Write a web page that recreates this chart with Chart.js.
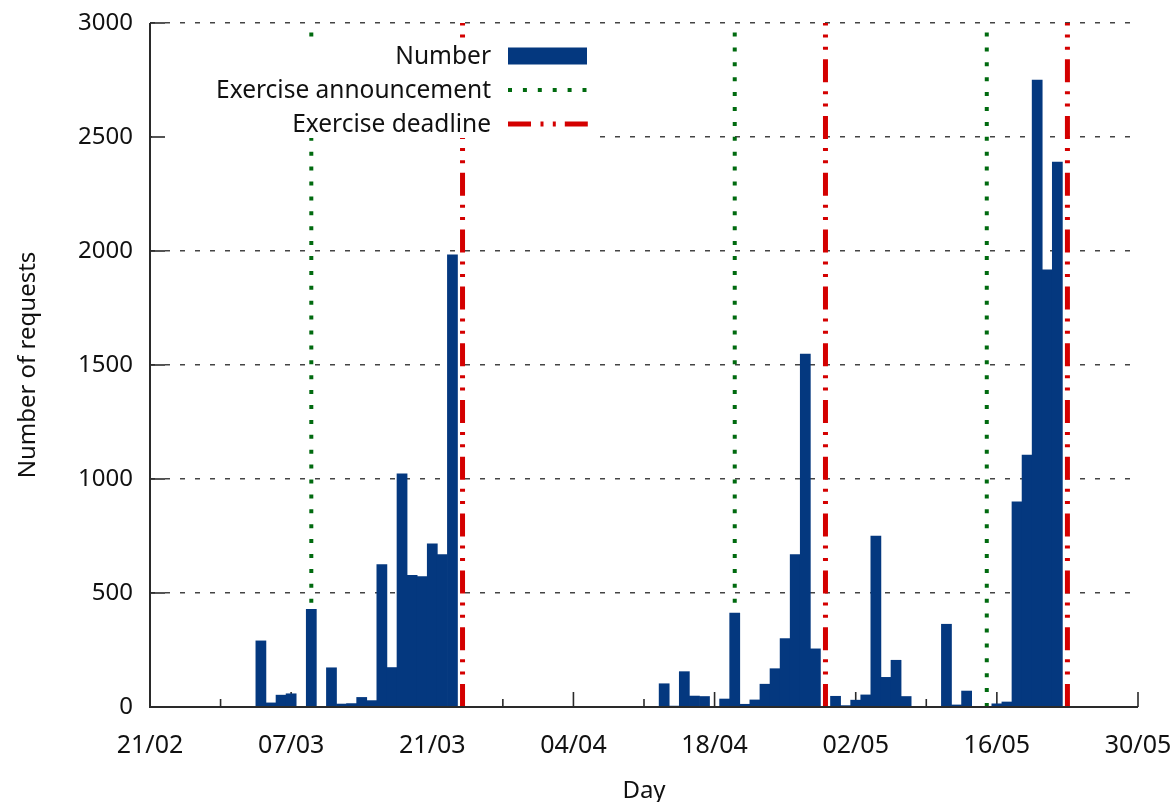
<!DOCTYPE html>
<html>
<head>
<meta charset="utf-8">
<title>Number of requests per day</title>
<script src="https://cdn.jsdelivr.net/npm/chart.js@4.4.1/dist/chart.umd.min.js"></script>
<style>
  html, body { margin: 0; padding: 0; background: #ffffff; }
  #wrap { position: relative; width: 1175px; height: 802px; }
</style>
</head>
<body>
<div id="wrap"><canvas id="chart" width="1175" height="802"></canvas></div>
<script>
// Requests per day, index = days since 21/02
const requests = [
  0, 0, 0, 0, 0, 0, 0, 0, 0, 0,          // 21/02 - 02/03
  0, 290, 18, 52, 58, 0, 428, 0, 172, 13, // 03/03 - 12/03
  15, 42, 28, 625, 173, 1023, 578, 572, 716, 668, // 13/03 - 22/03
  1983, 0, 0, 0, 0, 0, 0, 0, 0, 0,        // 23/03 - 01/04
  0, 0, 0, 0, 0, 0, 0, 0, 0, 0,           // 02/04 - 11/04
  0, 102, 4, 155, 48, 46, 0, 35, 412, 12, // 12/04 - 21/04
  31, 100, 168, 300, 669, 1548, 255, 0, 47, 6, // 22/04 - 01/05
  30, 53, 750, 130, 205, 46, 0, 0, 0, 363, // 02/05 - 11/05
  9, 70, 0, 0, 14, 22, 900, 1105, 2750, 1917, // 12/05 - 21/05
  2390, 0, 0, 0, 0, 0, 0, 0, 0            // 22/05 - 30/05
];

// Days (since 21/02) of the exercise announcements and deadlines
const announcementDays = [16, 58, 83];
const deadlineDays = [31, 67, 91];

// Date labels on the x axis, one every 14 days starting at 21/02
const tickLabels = ['21/02', '07/03', '21/03', '04/04', '18/04', '02/05', '16/05', '30/05'];

const yTicks = { min: 0, max: 3000, step: 500 };

const seriesNames = ['Number', 'Exercise announcement', 'Exercise deadline'];

const BAR_COLOR = '#04387f';
const GREEN = '#006a0f';
const RED = '#d40000';
const GREEN_DASH = [4, 10.9];
const RED_DASH = [23, 9.5, 3, 9.3, 3, 9];
const FONT = "'Noto Sans', 'DejaVu Sans', sans-serif";

const barPoints = requests.map((v, i) => ({ x: i, y: v }));

function verticalLines(days) {
  const pts = [];
  days.forEach((d, k) => {
    if (k > 0) pts.push({ x: d, y: null });
    pts.push({ x: d, y: yTicks.min });
    pts.push({ x: d, y: yTicks.max });
  });
  return pts;
}

// Inward tick marks below the bars (x axis)
const innerTicksBelow = {
  id: 'innerTicksBelow',
  beforeDatasetsDraw(chart) {
    const { ctx, chartArea } = chart;
    const xs = chart.scales.x;
    ctx.save();
    ctx.strokeStyle = '#2a2a2a';
    ctx.lineWidth = 1.6;
    xs.ticks.forEach(t => {
      const px = xs.getPixelForValue(t.value);
      const len = (t.value % 14 === 0) ? 15 : 8;
      ctx.beginPath();
      ctx.moveTo(px, chartArea.bottom);
      ctx.lineTo(px, chartArea.bottom - len);
      ctx.stroke();
    });
    ctx.restore();
  }
};

// Key box, axis lines and y tick marks on top
const keyAndAxes = {
  id: 'keyAndAxes',
  afterDatasetsDraw(chart) {
    const { ctx, chartArea } = chart;
    const ys = chart.scales.y;
    const ds = chart.data.datasets;
    ctx.save();

    // opaque key box
    const boxL = chartArea.left + 2, boxR = 600, boxT = 40, boxB = 138;
    ctx.fillStyle = '#ffffff';
    ctx.fillRect(boxL, boxT, boxR - boxL, boxB - boxT);

    const textRight = 491, sampleL = 508, sampleR = 587;
    const rows = [56, 90, 124];
    ctx.font = '24.5px ' + FONT;
    ctx.fillStyle = '#111111';
    ctx.textAlign = 'right';
    ctx.textBaseline = 'middle';
    rows.forEach((ry, i) => ctx.fillText(seriesNames[i], textRight, ry + 1));

    // Number sample
    ctx.fillStyle = ds[0].backgroundColor;
    ctx.fillRect(sampleL, rows[0] - 8.5, sampleR - sampleL, 17);
    // announcement sample
    ctx.strokeStyle = ds[1].borderColor;
    ctx.lineWidth = ds[1].borderWidth;
    ctx.setLineDash(ds[1].borderDash);
    ctx.beginPath();
    ctx.moveTo(sampleL, rows[1]);
    ctx.lineTo(sampleR, rows[1]);
    ctx.stroke();
    // deadline sample
    ctx.strokeStyle = ds[2].borderColor;
    ctx.lineWidth = ds[2].borderWidth;
    ctx.setLineDash(ds[2].borderDash);
    ctx.beginPath();
    ctx.moveTo(sampleL, rows[2]);
    ctx.lineTo(sampleR + 1, rows[2]);
    ctx.stroke();
    ctx.setLineDash([]);

    // y ticks (inward)
    ctx.strokeStyle = '#2a2a2a';
    ctx.lineWidth = 1.6;
    ys.ticks.forEach(t => {
      const py = ys.getPixelForValue(t.value);
      ctx.beginPath();
      ctx.moveTo(chartArea.left, py);
      ctx.lineTo(chartArea.left + 15, py);
      ctx.stroke();
    });

    // axis lines (left and bottom)
    ctx.strokeStyle = '#2a2a2a';
    ctx.lineWidth = 2;
    ctx.beginPath();
    ctx.moveTo(chartArea.left, chartArea.top);
    ctx.lineTo(chartArea.left, chartArea.bottom);
    ctx.lineTo(chartArea.right, chartArea.bottom);
    ctx.stroke();
    ctx.restore();
  }
};

Chart.defaults.font.family = FONT;
Chart.defaults.font.size = 24;
Chart.defaults.color = '#111111';

new Chart(document.getElementById('chart'), {
  type: 'bar',
  data: {
    datasets: [
      {
        type: 'bar',
        label: seriesNames[0],
        data: barPoints,
        backgroundColor: BAR_COLOR,
        borderWidth: 0,
        barPercentage: 1,
        categoryPercentage: 1,
        order: 0
      },
      {
        type: 'line',
        label: seriesNames[1],
        data: verticalLines(announcementDays),
        borderColor: GREEN,
        borderWidth: 4,
        borderDash: GREEN_DASH,
        borderCapStyle: 'butt',
        pointRadius: 0,
        spanGaps: false,
        fill: false,
        order: 2
      },
      {
        type: 'line',
        label: seriesNames[2],
        data: verticalLines(deadlineDays),
        borderColor: RED,
        borderWidth: 5,
        borderDash: RED_DASH,
        borderCapStyle: 'butt',
        pointRadius: 0,
        spanGaps: false,
        fill: false,
        order: 1
      }
    ]
  },
  options: {
    responsive: false,
    animation: false,
    events: [],
    layout: { padding: { left: 14, top: 23, right: 37, bottom: 0 } },
    plugins: {
      legend: { display: false },
      tooltip: { enabled: false }
    },
    scales: {
      x: {
        type: 'linear',
        min: 0,
        max: (tickLabels.length - 1) * 14,
        offset: false,
        grid: { display: false, drawTicks: false, tickLength: 0, offset: false },
        border: { display: false },
        ticks: {
          stepSize: 7,
          autoSkip: false,
          maxRotation: 0,
          padding: 24,
          color: '#111111',
          font: { size: 25 },
          callback: (v) => (v % 14 === 0 ? tickLabels[v / 14] : '')
        },
        title: {
          display: true,
          text: 'Day',
          color: '#111111',
          font: { size: 24 },
          padding: { top: 0, bottom: -4 }
        },
        afterFit: (s) => {
          s.height = 95;
          s.paddingLeft = 0;
          s.paddingRight = 0;
        }
      },
      y: {
        min: yTicks.min,
        max: yTicks.max,
        grid: {
          color: '#444444',
          lineWidth: 1.6,
          drawTicks: false,
          tickLength: 0
        },
        border: { display: false, dash: [5, 10] },
        ticks: {
          stepSize: yTicks.step,
          padding: 17,
          color: '#111111',
          callback: (v) => String(v)
        },
        title: {
          display: true,
          text: 'Number of requests',
          color: '#111111',
          font: { size: 24 },
          padding: { top: 0, bottom: 0 }
        },
        afterFit: (s) => {
          s.width = 136;
          s.paddingTop = 0;
          s.paddingBottom = 0;
        }
      }
    }
  },
  plugins: [innerTicksBelow, keyAndAxes]
});
</script>
</body>
</html>
